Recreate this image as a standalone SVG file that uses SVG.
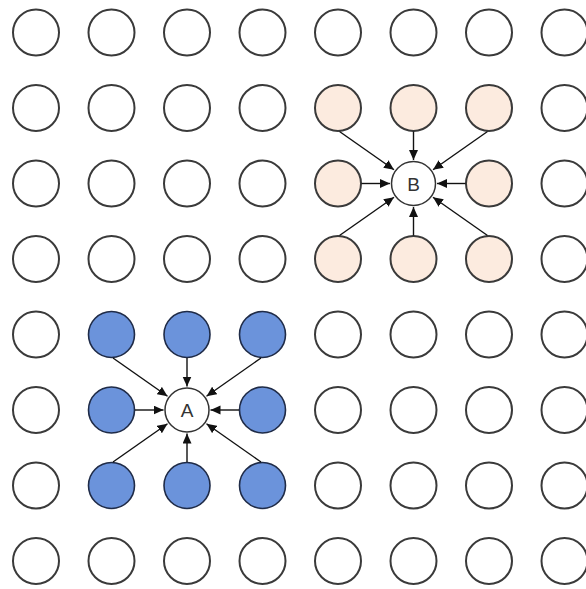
<svg xmlns="http://www.w3.org/2000/svg" width="586" height="589" viewBox="0 0 586 589">
<defs>
<style>
.n{fill:#fff;stroke:#3a3a3a;stroke-width:2}
.p{fill:#fcebdf;stroke:#3a3a3a;stroke-width:2}
.b{fill:#6b93db;stroke:#1f2b47;stroke-width:1.6}
.c{fill:#fff;stroke:#333;stroke-width:1.5}
.t{font-family:"Liberation Sans",Arial,sans-serif;font-size:19px;fill:#333;text-anchor:middle}
.e{stroke:#111;stroke-width:1.4;fill:none;marker-end:url(#ah)}
</style>
<marker id="ah" markerUnits="userSpaceOnUse" markerWidth="11" markerHeight="10" refX="10" refY="4.5" orient="auto">
<path d="M0,0 L10,4.5 L0,9 Z" fill="#111"/>
</marker>
</defs>
<g id="grid">
<g id="r1">
<circle class="n" cx="36" cy="32.5" r="23"/><circle class="n" cx="111.5" cy="32.5" r="23"/><circle class="n" cx="187" cy="32.5" r="23"/><circle class="n" cx="262.5" cy="32.5" r="23"/><circle class="n" cx="338" cy="32.5" r="23"/><circle class="n" cx="413.5" cy="32.5" r="23"/><circle class="n" cx="489" cy="32.5" r="23"/><circle class="n" cx="564.5" cy="32.5" r="23"/>
</g>
<g id="r2">
<circle class="n" cx="36" cy="108" r="23"/><circle class="n" cx="111.5" cy="108" r="23"/><circle class="n" cx="187" cy="108" r="23"/><circle class="n" cx="262.5" cy="108" r="23"/><circle class="p" cx="338" cy="108" r="23"/><circle class="p" cx="413.5" cy="108" r="23"/><circle class="p" cx="489" cy="108" r="23"/><circle class="n" cx="564.5" cy="108" r="23"/>
</g>
<g id="r3">
<circle class="n" cx="36" cy="183.5" r="23"/><circle class="n" cx="111.5" cy="183.5" r="23"/><circle class="n" cx="187" cy="183.5" r="23"/><circle class="n" cx="262.5" cy="183.5" r="23"/><circle class="p" cx="338" cy="183.5" r="23"/><circle class="p" cx="489" cy="183.5" r="23"/><circle class="n" cx="564.5" cy="183.5" r="23"/>
</g>
<g id="r4">
<circle class="n" cx="36" cy="259" r="23"/><circle class="n" cx="111.5" cy="259" r="23"/><circle class="n" cx="187" cy="259" r="23"/><circle class="n" cx="262.5" cy="259" r="23"/><circle class="p" cx="338" cy="259" r="23"/><circle class="p" cx="413.5" cy="259" r="23"/><circle class="p" cx="489" cy="259" r="23"/><circle class="n" cx="564.5" cy="259" r="23"/>
</g>
<g id="r5">
<circle class="n" cx="36" cy="334.5" r="23"/><circle class="b" cx="111.5" cy="334.5" r="23"/><circle class="b" cx="187" cy="334.5" r="23"/><circle class="b" cx="262.5" cy="334.5" r="23"/><circle class="n" cx="338" cy="334.5" r="23"/><circle class="n" cx="413.5" cy="334.5" r="23"/><circle class="n" cx="489" cy="334.5" r="23"/><circle class="n" cx="564.5" cy="334.5" r="23"/>
</g>
<g id="r6">
<circle class="n" cx="36" cy="410" r="23"/><circle class="b" cx="111.5" cy="410" r="23"/><circle class="b" cx="262.5" cy="410" r="23"/><circle class="n" cx="338" cy="410" r="23"/><circle class="n" cx="413.5" cy="410" r="23"/><circle class="n" cx="489" cy="410" r="23"/><circle class="n" cx="564.5" cy="410" r="23"/>
</g>
<g id="r7">
<circle class="n" cx="36" cy="485.5" r="23"/><circle class="b" cx="111.5" cy="485.5" r="23"/><circle class="b" cx="187" cy="485.5" r="23"/><circle class="b" cx="262.5" cy="485.5" r="23"/><circle class="n" cx="338" cy="485.5" r="23"/><circle class="n" cx="413.5" cy="485.5" r="23"/><circle class="n" cx="489" cy="485.5" r="23"/><circle class="n" cx="564.5" cy="485.5" r="23"/>
</g>
<g id="r8">
<circle class="n" cx="36" cy="561" r="23"/><circle class="n" cx="111.5" cy="561" r="23"/><circle class="n" cx="187" cy="561" r="23"/><circle class="n" cx="262.5" cy="561" r="23"/><circle class="n" cx="338" cy="561" r="23"/><circle class="n" cx="413.5" cy="561" r="23"/><circle class="n" cx="489" cy="561" r="23"/><circle class="n" cx="564.5" cy="561" r="23"/>
</g>
</g>
<g id="connectors">
<g transform="translate(413.5,183.5)">
<line class="e" x1="-74" y1="-52" x2="-19.5" y2="-13.7"/>
<line class="e" x1="0" y1="-52" x2="0" y2="-23.5"/>
<line class="e" x1="74" y1="-52" x2="19.5" y2="-13.7"/>
<line class="e" x1="-52" y1="0" x2="-23.5" y2="0"/>
<line class="e" x1="52" y1="0" x2="23.5" y2="0"/>
<line class="e" x1="-74" y1="52" x2="-19.5" y2="13.7"/>
<line class="e" x1="0" y1="52" x2="0" y2="23.5"/>
<line class="e" x1="74" y1="52" x2="19.5" y2="13.7"/>
</g>
<g transform="translate(187,410)">
<line class="e" x1="-74" y1="-52" x2="-19.5" y2="-13.7"/>
<line class="e" x1="0" y1="-52" x2="0" y2="-23.5"/>
<line class="e" x1="74" y1="-52" x2="19.5" y2="-13.7"/>
<line class="e" x1="-52" y1="0" x2="-23.5" y2="0"/>
<line class="e" x1="52" y1="0" x2="23.5" y2="0"/>
<line class="e" x1="-74" y1="52" x2="-19.5" y2="13.7"/>
<line class="e" x1="0" y1="52" x2="0" y2="23.5"/>
<line class="e" x1="74" y1="52" x2="19.5" y2="13.7"/>
</g>
</g>
<g id="nodeB">
<circle class="c" cx="413.5" cy="183.5" r="22"/>
<text class="t" x="413.5" y="190.5">B</text>
</g>
<g id="nodeA">
<circle class="c" cx="187" cy="410" r="22"/>
<text class="t" x="187" y="417">A</text>
</g>
</svg>
